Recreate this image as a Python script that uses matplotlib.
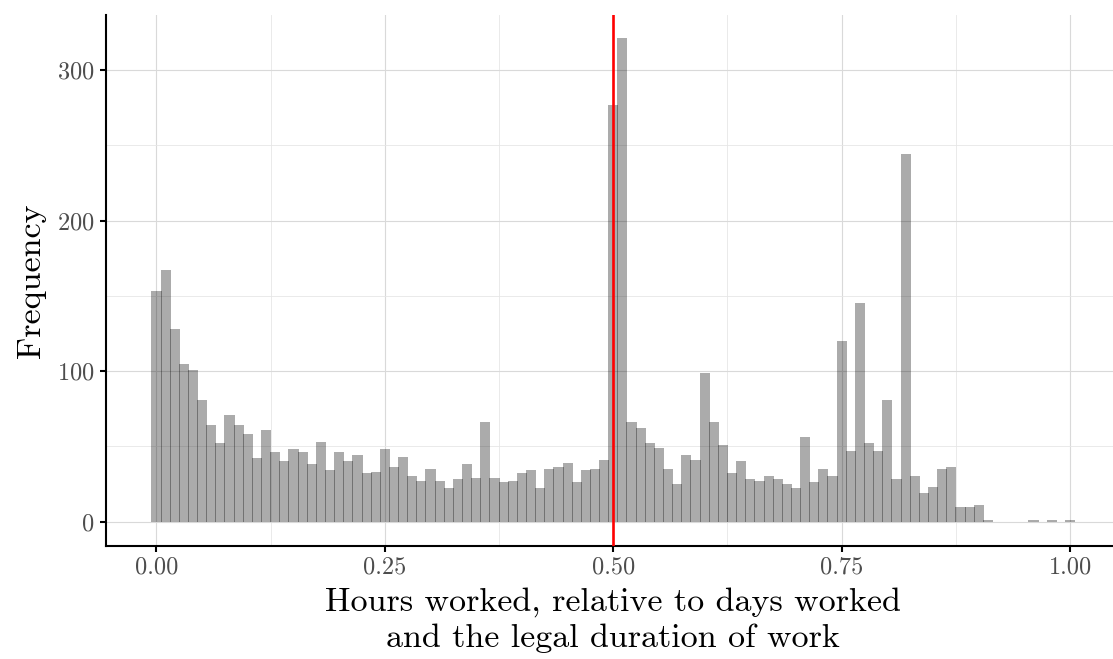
import numpy as np
import matplotlib
matplotlib.use("Agg")
import matplotlib.pyplot as plt
from matplotlib.ticker import MultipleLocator

# Histogram counts, one bin per 0.01 (bin centres 0.00 ... 1.00)
bin_centres = [round(i / 100, 2) for i in range(101)]
counts = [
    153, 167, 128, 105, 101, 81, 64, 52, 71, 64,     # 0.00 - 0.09
    58, 42, 61, 46, 40, 48, 46, 38, 53, 34,          # 0.10 - 0.19
    46, 40, 44, 32, 33, 48, 36, 43, 30, 27,          # 0.20 - 0.29
    35, 27, 22, 28, 38, 29, 66, 29, 26, 27,          # 0.30 - 0.39
    32, 34, 22, 35, 36, 39, 26, 34, 35, 41,          # 0.40 - 0.49
    277, 321, 66, 62, 52, 49, 35, 25, 44, 41,        # 0.50 - 0.59
    99, 66, 51, 32, 40, 28, 27, 30, 28, 25,          # 0.60 - 0.69
    22, 56, 26, 35, 30, 120, 47, 145, 52, 47,        # 0.70 - 0.79
    81, 28, 244, 30, 19, 23, 35, 36, 10, 10,         # 0.80 - 0.89
    11, 1, 0, 0, 0, 0, 1, 0, 1, 0,                   # 0.90 - 0.99
    1,                                               # 1.00
]
bin_width = 0.01
legal_threshold = 0.5

x_ticks = [0.0, 0.25, 0.5, 0.75, 1.0]
x_tick_labels = ["0.00", "0.25", "0.50", "0.75", "1.00"]
y_ticks = [0, 100, 200, 300]

plt.rcParams["font.family"] = ["cmr10", "DejaVu Serif"]
plt.rcParams["axes.formatter.use_mathtext"] = True

fig = plt.figure(figsize=(11.13, 6.59), dpi=100)
ax = fig.add_axes([0.095, 0.172, 0.912, 0.805])

# semi-transparent bars, overlapping by ~1px so the seams come out darker
ax.bar(bin_centres, counts, width=bin_width * 1.11, color="black", alpha=0.33,
       edgecolor="none", linewidth=0, zorder=2)
ax.axvline(legal_threshold, color="red", linewidth=1.9, zorder=3)

ax.set_xlim(-0.0555, 1.0555)
ax.set_ylim(-16, 336.5)
ax.set_xticks(x_ticks)
ax.set_xticklabels(x_tick_labels)
ax.set_yticks(y_ticks)
ax.xaxis.set_minor_locator(MultipleLocator(0.125))
ax.yaxis.set_minor_locator(MultipleLocator(50))

ax.grid(which="major", color="#d9d9d9", linewidth=0.8, zorder=0)
ax.grid(which="minor", color="#e6e6e6", linewidth=0.6, zorder=0)
ax.set_axisbelow(True)

for side in ["top", "right"]:
    ax.spines[side].set_visible(False)
for side in ["left", "bottom"]:
    ax.spines[side].set_linewidth(1.5)

ax.tick_params(which="major", length=4, width=1.5, color="black",
               labelsize=17.5, labelcolor="#4d4d4d", pad=4)
ax.tick_params(which="minor", length=0)

ax.set_ylabel("Frequency", fontsize=24.5, labelpad=8)
ax.set_xlabel("Hours worked, relative to days worked\nand the legal duration of work",
              fontsize=24.5, labelpad=6, linespacing=1.28)

fig.savefig("out.png", dpi=100)
